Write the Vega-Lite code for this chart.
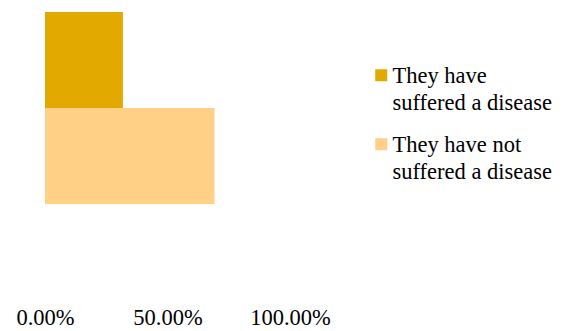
{
  "$schema": "https://vega.github.io/schema/vega-lite/v6.json",
  "autosize": {"type": "none"},
  "padding": {"left": 45, "top": 12, "right": 284, "bottom": 127},
  "width": 245,
  "height": 192,
  "background": "white",
  "config": {
    "view": {"stroke": null},
    "font": "Liberation Serif"
  },
  "data": {
    "values": [
      {"group": "They have suffered a disease", "value": 0.318},
      {"group": "They have not suffered a disease", "value": 0.692}
    ]
  },
  "mark": {"type": "bar"},
  "encoding": {
    "y": {
      "field": "group",
      "type": "nominal",
      "sort": ["They have suffered a disease", "They have not suffered a disease"],
      "scale": {"paddingInner": 0, "paddingOuter": 0},
      "axis": null
    },
    "x": {
      "field": "value",
      "type": "quantitative",
      "scale": {"domain": [0, 1]},
      "axis": {
        "values": [0, 0.5, 1],
        "format": ".2%",
        "title": null,
        "domain": false,
        "ticks": false,
        "grid": false,
        "labelFont": "Liberation Serif",
        "labelFontSize": 22.5,
        "labelColor": "black",
        "labelPadding": 0,
        "offset": 102,
        "labelFlush": false
      }
    },
    "color": {
      "field": "group",
      "type": "nominal",
      "sort": ["They have suffered a disease", "They have not suffered a disease"],
      "scale": {"range": ["#E2AA00", "#FFD086"]},
      "legend": {
        "title": null,
        "orient": "none",
        "legendX": 325,
        "legendY": 52,
        "symbolType": "square",
        "symbolSize": 144,
        "symbolStrokeWidth": 0,
        "labelFont": "Liberation Serif",
        "labelFontSize": 22.5,
        "labelColor": "black",
        "labelLimit": 300,
        "labelOffset": 0,
        "labelBaseline": "top",
        "rowPadding": 18,
        "labelExpr": "datum.label == 'They have suffered a disease' ? ['They have', 'suffered a disease'] : ['They have not', 'suffered a disease']",
        "encode": {
          "labels": {
            "update": {
              "dy": {"value": -10},
              "lineHeight": {"value": 27}
            }
          }
        }
      }
    }
  }
}
